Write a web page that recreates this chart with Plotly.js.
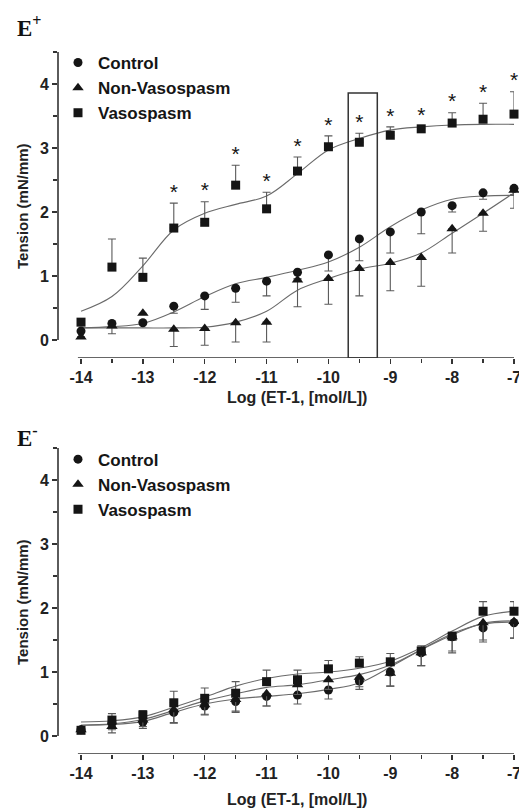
<!DOCTYPE html>
<html>
<head>
<meta charset="utf-8">
<script src="https://cdn.plot.ly/plotly-3.0.1.min.js"></script>
<style>html,body{margin:0;padding:0;background:#fff;}#chart{width:519px;height:809px;}</style>
</head>
<body>
<div id="chart"></div>
<script>
// ---- data ----
var logConc = [-14,-13.5,-13,-12.5,-12,-11.5,-11,-10.5,-10,-9.5,-9,-8.5,-8,-7.5,-7];
var seriesNames = ['Control','Non-Vasospasm','Vasospasm'];

// Panel E+ (endothelium intact)
var ePlusControl      = [0.14,0.26,0.27,0.53,0.69,0.81,0.92,1.06,1.33,1.58,1.69,2.00,2.10,2.30,2.37];
var ePlusControlErr   = [0,0.16,0,0.11,0.21,0.22,0.23,0.10,0.25,0.34,0.33,0.34,0.10,0.10,0.10];
var ePlusNonVaso      = [0.05,0.22,0.42,0.17,0.18,0.27,0.28,0.94,0.96,1.12,1.21,1.29,1.74,1.98,2.34];
var ePlusNonVasoErr   = [0,0,0,0.27,0.26,0.30,0.31,0.42,0.40,0.43,0.44,0.45,0.38,0.28,0.28];
var ePlusVaso         = [0.28,1.14,0.98,1.75,1.84,2.42,2.05,2.64,3.02,3.09,3.20,3.30,3.39,3.45,3.53];
var ePlusVasoErr      = [0,0.44,0.30,0.39,0.32,0.31,0.26,0.22,0.17,0.14,0.13,0.04,0.16,0.25,0.35];
var ePlusSignificant  = [false,false,false,true,true,true,true,true,true,true,true,true,true,true,true];
// fitted curves
var ePlusControlFit   = [0.19,0.21,0.26,0.44,0.68,0.88,0.98,1.09,1.22,1.45,1.77,2.03,2.20,2.25,2.26];
var ePlusNonVasoFit   = [0.19,0.19,0.19,0.19,0.20,0.28,0.45,0.78,0.96,1.11,1.20,1.36,1.67,1.98,2.30];
var ePlusVasoFit      = [0.45,0.68,1.16,1.72,1.98,2.12,2.25,2.60,2.97,3.15,3.28,3.33,3.36,3.37,3.37];
var boxX = [-9.68,-9.21];
var boxY = [-0.28,3.86];

// Panel E- (endothelium denuded)
var eMinusControl     = [0.10,0.20,0.22,0.37,0.47,0.54,0.62,0.64,0.72,0.86,1.00,1.30,1.55,1.69,1.77];
var eMinusControlErr  = [0,0.10,0.10,0.17,0.14,0.15,0.15,0.14,0.14,0.13,0.22,0.20,0.25,0.22,0.24];
var eMinusNonVaso     = [0.10,0.15,0.25,0.41,0.49,0.57,0.66,0.80,0.88,0.92,0.98,1.30,1.55,1.77,1.79];
var eMinusNonVasoErr  = [0,0.10,0.10,0.20,0.15,0.20,0.19,0.15,0.15,0.15,0.20,0.20,0.22,0.27,0.26];
var eMinusVaso        = [0.09,0.25,0.33,0.52,0.59,0.67,0.85,0.88,1.05,1.14,1.16,1.33,1.56,1.95,1.95];
var eMinusVasoErr     = [0,0.10,0.07,0.18,0.16,0.18,0.18,0.15,0.13,0.10,0.13,0.08,0.06,0.15,0.15];
var eMinusControlFit  = [0.17,0.18,0.23,0.37,0.50,0.58,0.62,0.66,0.73,0.83,1.08,1.35,1.60,1.75,1.78];
var eMinusNonVasoFit  = [0.17,0.19,0.26,0.40,0.55,0.66,0.76,0.80,0.88,0.96,1.11,1.35,1.58,1.76,1.80];
var eMinusVasoFit     = [0.22,0.24,0.30,0.45,0.61,0.78,0.90,0.97,1.00,1.06,1.17,1.38,1.64,1.87,1.95];

var yTicks = [0,1,2,3,4];
var xTicks = [-14,-13,-12,-11,-10,-9,-8,-7];

// ---- styling ----
var INK = '#151515';
var CURVE = '#6a6a6a';
var ERR = '#5a5a5a';
var AX = '#333333';
var FONT = 'Liberation Sans, Arial, sans-serif';
var zeros = logConc.map(function(){return 0;});

function fitTrace(y, xa, ya){
  return {x: logConc, y: y, xaxis: xa, yaxis: ya, mode:'lines', line:{color:CURVE, width:1.1, shape:'spline', smoothing:1},
          showlegend:false, hoverinfo:'skip'};
}
function dataTrace(y, errUp, errDown, sym, size, name, xa, ya, leg, showleg){
  return {x: logConc, y: y, xaxis: xa, yaxis: ya, mode:'markers', name:name, legend:leg, showlegend:showleg,
          cliponaxis:false,
          marker:{symbol:sym, size:size, color:INK, line:{width:0}},
          error_y:{type:'data', symmetric:false, array:errUp, arrayminus:errDown, color:ERR, thickness:1.1, width:4}};
}

var traces = [
  fitTrace(ePlusControlFit,'x','y'), fitTrace(ePlusNonVasoFit,'x','y'), fitTrace(ePlusVasoFit,'x','y'),
  fitTrace(eMinusControlFit,'x2','y2'), fitTrace(eMinusNonVasoFit,'x2','y2'), fitTrace(eMinusVasoFit,'x2','y2'),
  dataTrace(ePlusControl, zeros, ePlusControlErr, 'circle', 9, seriesNames[0], 'x','y','legend', true),
  dataTrace(ePlusNonVaso, zeros, ePlusNonVasoErr, 'triangle-up', 10, seriesNames[1], 'x','y','legend', true),
  dataTrace(ePlusVaso, ePlusVasoErr, zeros, 'square', 9, seriesNames[2], 'x','y','legend', true),
  dataTrace(eMinusControl, zeros, eMinusControlErr, 'circle', 9, seriesNames[0], 'x2','y2','legend2', true),
  dataTrace(eMinusNonVaso, zeros, eMinusNonVasoErr, 'triangle-up', 10, seriesNames[1], 'x2','y2','legend2', true),
  dataTrace(eMinusVaso, eMinusVasoErr, zeros, 'square', 9, seriesNames[2], 'x2','y2','legend2', true)
];

// significance stars above the vasospasm error bars
var starX = [], starY = [];
logConc.forEach(function(v,i){ if(ePlusSignificant[i]){ starX.push(v); starY.push(ePlusVaso[i] + ePlusVasoErr[i] + 0.15); } });
traces.push({x:starX, y:starY, xaxis:'x', yaxis:'y', mode:'text', text:starX.map(function(){return '*';}),
  textposition:'middle center', textfont:{family:FONT, size:21, color:INK}, showlegend:false, hoverinfo:'skip', cliponaxis:false});

var xRange = [-14.372, -7.0];
var yRange = [-0.28, 4.5];
function xAxis(anchor){
  return {anchor:anchor, domain:[0,1], range:xRange, tickvals:xTicks, ticktext:xTicks.map(String), ticks:'outside', ticklen:5, tickwidth:1.5,
          tickcolor:AX, showline:false, showgrid:false, zeroline:false, ticklabeloverflow:'allow',
          tickfont:{family:FONT, size:16, color:'#222', weight:'bold'},
          minor:{dtick:0.5, tick0:-14, ticks:'outside', ticklen:4, tickwidth:1.3, tickcolor:AX, showgrid:false}};
}
function yAxis(anchor, domain){
  return {anchor:anchor, domain:domain, range:yRange, tickvals:yTicks, ticktext:yTicks.map(String), ticks:'outside', ticklen:5, tickwidth:1.5,
          tickcolor:AX, showline:false, showgrid:false, zeroline:false, tickfont:{family:FONT, size:16, color:'#222', weight:'bold'},
          minor:{dtick:0.5, tick0:0, ticks:'outside', ticklen:4, tickwidth:1.3, tickcolor:AX, showgrid:false}};
}

function axisShapes(xa, ya){
  return [
    {type:'line', xref:'paper', yref:ya, x0:0, x1:0, y0:0, y1:4.5, line:{color:AX, width:1.6}},
    {type:'line', xref:xa, yref:ya, x0:-14.05, x1:-7, y0:-0.28, y1:-0.28, line:{color:AX, width:1.6}}
  ];
}
var shapes = axisShapes('x','y').concat(axisShapes('x2','y2'));
shapes.push({type:'rect', xref:'x', yref:'y', x0:boxX[0], x1:boxX[1], y0:boxY[0], y1:boxY[1], line:{color:AX, width:1.5}, fillcolor:'rgba(0,0,0,0)'});

var titleFont = {family:FONT, size:16, color:'#222', weight:'bold'};
var annotations = [
  {text:'E<sup>+</sup>', xref:'paper', yref:'paper', x:-0.094, y:1.037, xanchor:'left', yanchor:'middle', showarrow:false,
   font:{family:'Liberation Serif, Times New Roman, serif', size:23, color:'#111', weight:'bold'}},
  {text:'E<sup>-</sup>', xref:'paper', yref:'paper', x:-0.094, y:0.4516, xanchor:'left', yanchor:'middle', showarrow:false,
   font:{family:'Liberation Serif, Times New Roman, serif', size:23, color:'#111', weight:'bold'}},
  {text:'Log (ET-1, [mol/L])', xref:'paper', yref:'paper', x:0.525, y:0.5085, xanchor:'center', yanchor:'middle', showarrow:false, font:titleFont},
  {text:'Log (ET-1, [mol/L])', xref:'paper', yref:'paper', x:0.525, y:-0.0655, xanchor:'center', yanchor:'middle', showarrow:false, font:titleFont},
  {text:'Tension (mN/mm)', xref:'paper', yref:'paper', x:-0.079, y:0.7806, xanchor:'center', yanchor:'middle', textangle:-90, showarrow:false, font:{family:FONT, size:15, color:'#222', weight:'bold'}},
  {text:'Tension (mN/mm)', xref:'paper', yref:'paper', x:-0.079, y:0.2165, xanchor:'center', yanchor:'middle', textangle:-90, showarrow:false, font:{family:FONT, size:15, color:'#222', weight:'bold'}}
];

var legendFont = {family:FONT, size:17, color:'#151515', weight:'bold'};
var layout = {
  width:519, height:809,
  margin:{l:58, r:5, t:52, b:55},
  paper_bgcolor:'#fff', plot_bgcolor:'#fff',
  showlegend:true,
  xaxis: xAxis('y'), yaxis: yAxis('x', [0.5641, 1]),
  xaxis2: xAxis('y2'), yaxis2: yAxis('x2', [0, 0.4359]),
  legend:{x:0.0, y:1.01, xanchor:'left', yanchor:'top', bgcolor:'rgba(0,0,0,0)', borderwidth:0, font:legendFont},
  legend2:{x:0.0, y:0.445, xanchor:'left', yanchor:'top', bgcolor:'rgba(0,0,0,0)', borderwidth:0, font:legendFont},
  shapes:shapes,
  annotations:annotations
};

Plotly.newPlot('chart', traces, layout, {staticPlot:true, displayModeBar:false});
</script>
</body>
</html>
